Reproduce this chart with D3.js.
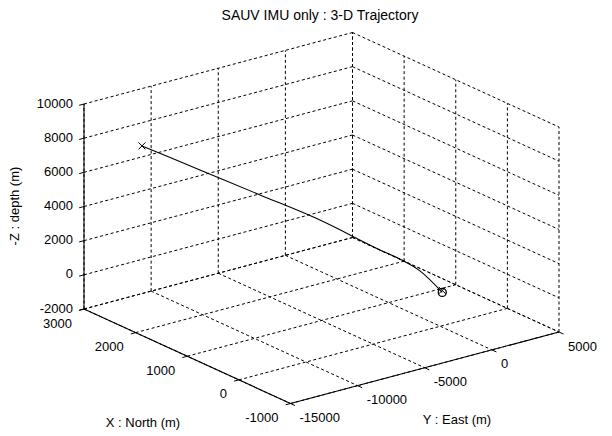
<!DOCTYPE html>
<html><head><meta charset="utf-8">
<script src="https://cdn.jsdelivr.net/npm/d3@7"></script>
<style>
body{margin:0;background:#fff}
svg{display:block}
text{font-family:Arial,"Liberation Sans",sans-serif;fill:#000}
</style>
</head><body>
<svg id="c" width="612" height="436"></svg>
<script>
// ---- data ----
const title = "SAUV IMU only : 3-D Trajectory";
const xLabel = "X : North (m)";
const yLabel = "Y : East (m)";
const zLabel = "-Z : depth (m)";
const xTicks = [3000, 2000, 1000, 0, -1000];
const yTicks = [-15000, -10000, -5000, 0, 5000];
const zTicks = [-2000, 0, 2000, 4000, 6000, 8000, 10000];
// trajectory (North, East, -Z)
const trajX = [0, 200, 390, 580, 1140, 1700, 2260, 2800];
const trajY = [150, -720, -1490, -2260, -4580, -6890, -9210, -11450];
const trajZ = [-50, 1100, 1700, 2140, 3600, 4780, 5950, 7080];

// ---- projection ----
const svg = d3.select("#c");
const origin = [84, 309];
const ex = [206.5, 94.5], ey = [268.5, -71.5], ez = [0, -205];
const xS = d3.scaleLinear().domain([3000, -1000]).range([0, 1]);
const yS = d3.scaleLinear().domain([-15000, 5000]).range([0, 1]);
const zS = d3.scaleLinear().domain([-2000, 10000]).range([0, 1]);
function P(x, y, z) {
  const u = xS(x), v = yS(y), w = zS(z);
  return [origin[0] + u*ex[0] + v*ey[0] + w*ez[0],
          origin[1] + u*ex[1] + v*ey[1] + w*ez[1]];
}
const [x0, x1] = xS.domain(), [y0, y1] = yS.domain(), [z0, z1] = zS.domain();

// ---- grid ----
const segs = [];
xTicks.forEach(t => { segs.push([P(t, y0, z0), P(t, y1, z0)]); segs.push([P(t, y1, z0), P(t, y1, z1)]); });
yTicks.forEach(t => { segs.push([P(x0, t, z0), P(x1, t, z0)]); segs.push([P(x0, t, z0), P(x0, t, z1)]); });
zTicks.forEach(t => { segs.push([P(x0, y0, t), P(x0, y1, t)]); segs.push([P(x0, y1, t), P(x1, y1, t)]); });
svg.append("g").selectAll("line").data(segs).join("line")
  .attr("x1", d => d[0][0]).attr("y1", d => d[0][1])
  .attr("x2", d => d[1][0]).attr("y2", d => d[1][1])
  .attr("stroke", "#000").attr("stroke-width", 1).attr("stroke-dasharray", "3,2.5");

// ---- axes ----
const axes = [[P(x0, y0, z0), P(x0, y0, z1)], [P(x0, y0, z0), P(x1, y0, z0)], [P(x1, y0, z0), P(x1, y1, z0)]];
svg.append("g").selectAll("line").data(axes).join("line")
  .attr("x1", d => d[0][0]).attr("y1", d => d[0][1])
  .attr("x2", d => d[1][0]).attr("y2", d => d[1][1])
  .attr("stroke", "#000").attr("stroke-width", 1.1);

const eyL = Math.hypot(ey[0], ey[1]), exL = Math.hypot(ex[0], ex[1]);
const tl = 5;
const tickG = svg.append("g").attr("stroke", "#000").attr("stroke-width", 1);
zTicks.forEach(t => { const p = P(x0, y0, t); tickG.append("line").attr("x1", p[0]).attr("y1", p[1]).attr("x2", p[0] - tl*ey[0]/eyL).attr("y2", p[1] - tl*ey[1]/eyL); });
xTicks.forEach(t => { const p = P(t, y0, z0); tickG.append("line").attr("x1", p[0]).attr("y1", p[1]).attr("x2", p[0] - tl*ey[0]/eyL).attr("y2", p[1] - tl*ey[1]/eyL); });
yTicks.forEach(t => { const p = P(x1, t, z0); tickG.append("line").attr("x1", p[0]).attr("y1", p[1]).attr("x2", p[0] + tl*ex[0]/exL).attr("y2", p[1] + tl*ex[1]/exL); });

// ---- tick labels ----
const fs = 13;
svg.append("g").selectAll("text").data(zTicks).join("text")
  .attr("x", d => P(x0, y0, d)[0] - 11).attr("y", d => P(x0, y0, d)[1] - 1).attr("dy", "0.35em")
  .attr("text-anchor", "end").attr("font-size", fs).text(d => d);
svg.append("g").selectAll("text").data(xTicks).join("text")
  .attr("x", d => P(d, y0, z0)[0] - 12).attr("y", d => P(d, y0, z0)[1] + 14).attr("dy", "0.35em")
  .attr("text-anchor", "end").attr("font-size", fs).text(d => d);
svg.append("g").selectAll("text").data(yTicks).join("text")
  .attr("x", d => P(x1, d, z0)[0] + 9).attr("y", d => P(x1, d, z0)[1] + 14).attr("dy", "0.35em")
  .attr("text-anchor", "start").attr("font-size", fs).text(d => d);

// ---- labels ----
svg.append("text").attr("x", 320).attr("y", 20).attr("text-anchor", "middle").attr("font-size", 14).text(title);
svg.append("text").attr("x", 143).attr("y", 427).attr("text-anchor", "middle").attr("font-size", fs).text(xLabel);
svg.append("text").attr("x", 457).attr("y", 424).attr("text-anchor", "middle").attr("font-size", fs).text(yLabel);
svg.append("text").attr("transform", "translate(19,206) rotate(-90)").attr("text-anchor", "middle").attr("font-size", fs).text(zLabel);

// ---- trajectory ----
const pts = trajX.map((x, i) => P(x, trajY[i], trajZ[i]));
svg.append("path").attr("d", d3.line().curve(d3.curveMonotoneX)(pts)).attr("fill", "none").attr("stroke", "#000").attr("stroke-width", 1.1);
const s = pts[0], e = pts[pts.length - 1];
svg.append("circle").attr("cx", s[0]).attr("cy", s[1]).attr("r", 4).attr("fill", "none").attr("stroke", "#000").attr("stroke-width", 1.3);
const xm = (p, r) => `M${p[0]-r},${p[1]-r}L${p[0]+r},${p[1]+r}M${p[0]-r},${p[1]+r}L${p[0]+r},${p[1]-r}`;
svg.append("path").attr("d", xm([s[0], s[1]-2], 3.5)).attr("stroke", "#000").attr("fill", "none");
svg.append("path").attr("d", xm(e, 3.5)).attr("stroke", "#000").attr("fill", "none");
</script>
</body></html>
